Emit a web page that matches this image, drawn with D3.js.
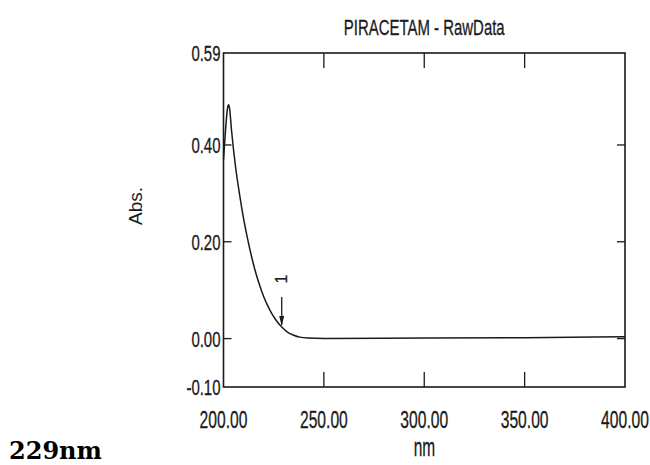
<!DOCTYPE html>
<html>
<head>
<meta charset="utf-8">
<script src="https://cdn.jsdelivr.net/npm/d3@7"></script>
<style>
  html, body { margin: 0; padding: 0; background: #fff; }
  svg { display: block; }
</style>
</head>
<body>
<svg id="chart" width="650" height="465"></svg>
<script>
// ---- data ----
const title = "PIRACETAM - RawData";
const xLabel = "nm";
const yLabel = "Abs.";
const note = "229nm";
const peakLabel = "1";
const peakWavelength = 229;
const wavelengths = [200, 201, 202, 202.5, 203, 204, 205, 206, 208, 210, 212, 214, 216, 218, 220, 222, 224, 226, 229, 232, 235, 238, 242, 250, 300, 350, 400];
const absorbance  = [0.37, 0.43, 0.476, 0.483, 0.476, 0.43, 0.39, 0.355, 0.298, 0.248, 0.206, 0.169, 0.137, 0.110, 0.087, 0.068, 0.052, 0.039, 0.024, 0.013, 0.007, 0.003, 0.001, 0.000, 0.001, 0.002, 0.004];
const xTicks = [200, 250, 300, 350, 400];
const yTicks = [-0.10, 0.00, 0.20, 0.40, 0.59];

// ---- layout ----
const svg = d3.select("#chart");
const pL = 223.5, pR = 625, pT = 53, pB = 387;
const x = d3.scaleLinear().domain([200, 400]).range([pL, pR]);
const y = d3.scaleLinear().domain([-0.10, 0.59]).range([pB, pT]);
const ink = "#1a1a1a";
const narrow = 0.68;
const font = "'Liberation Sans', Arial, sans-serif";

// frame
svg.append("rect")
  .attr("x", pL).attr("y", pT)
  .attr("width", pR - pL).attr("height", pB - pT)
  .attr("fill", "none").attr("stroke", ink).attr("stroke-width", 1.6);

// inner ticks
const tickG = svg.append("g").attr("stroke", ink).attr("stroke-width", 1.3);
xTicks.slice(1, -1).forEach(t => {
  tickG.append("line").attr("x1", x(t)).attr("x2", x(t)).attr("y1", pT).attr("y2", pT + 15);
  tickG.append("line").attr("x1", x(t)).attr("x2", x(t)).attr("y1", pB).attr("y2", pB - 15);
});
yTicks.slice(1, -1).forEach(t => {
  tickG.append("line").attr("x1", pL).attr("x2", pL + 8).attr("y1", y(t)).attr("y2", y(t));
  tickG.append("line").attr("x1", pR).attr("x2", pR - 8).attr("y1", y(t)).attr("y2", y(t));
});

// tick labels (condensed)
xTicks.forEach(t => {
  svg.append("g").attr("transform", `translate(${x(t)},428)`)
    .append("text").attr("transform", `scale(${narrow},1)`)
    .attr("text-anchor", "middle").attr("font-family", font).attr("font-size", 23)
    .attr("fill", ink).attr("stroke", ink).attr("stroke-width", 0.3).text(t.toFixed(2));
});
yTicks.forEach(t => {
  svg.append("g").attr("transform", `translate(${pL - 3},${y(t) + 8})`)
    .append("text").attr("transform", `scale(${narrow},1)`)
    .attr("text-anchor", "end").attr("font-family", font).attr("font-size", 22)
    .attr("fill", ink).attr("stroke", ink).attr("stroke-width", 0.3).text(t.toFixed(2));
});

// title
svg.append("g").attr("transform", `translate(${(pL + pR) / 2},35)`)
  .append("text").attr("transform", `scale(${narrow},1)`)
  .attr("text-anchor", "middle").attr("font-family", font).attr("font-size", 22)
  .attr("fill", ink).attr("stroke", ink).attr("stroke-width", 0.3).text(title);

// x label
svg.append("g").attr("transform", `translate(424.5,456)`)
  .append("text").attr("transform", `scale(0.62,1)`)
  .attr("text-anchor", "middle").attr("font-family", font).attr("font-size", 25)
  .attr("fill", ink).attr("stroke", ink).attr("stroke-width", 0.3).text(xLabel);

// y label
svg.append("text")
  .attr("transform", `translate(142,206) rotate(-90)`)
  .attr("text-anchor", "middle").attr("font-family", font).attr("font-size", 19)
  .attr("fill", ink).text(yLabel);

// spectrum
const line = d3.line()
  .x((d, i) => x(wavelengths[i]))
  .y(d => y(d))
  .curve(d3.curveMonotoneX);
svg.append("path")
  .datum(absorbance)
  .attr("d", line)
  .attr("fill", "none").attr("stroke", ink).attr("stroke-width", 1.5);

// peak marker arrow
const ax = x(peakWavelength);
const ayIdx = wavelengths.indexOf(peakWavelength);
const ay = y(absorbance[ayIdx]);
svg.append("line")
  .attr("x1", ax).attr("x2", ax).attr("y1", ay - 30).attr("y2", ay - 2)
  .attr("stroke", ink).attr("stroke-width", 1.3);
svg.append("path")
  .attr("d", `M${ax - 2.5},${ay - 11} L${ax + 2.5},${ay - 11} L${ax},${ay - 1} Z`)
  .attr("fill", ink);
svg.append("text")
  .attr("transform", `translate(${ax + 5},${ay - 48}) rotate(-90)`)
  .attr("text-anchor", "middle").attr("font-family", font).attr("font-size", 16)
  .attr("fill", ink).attr("stroke", ink).attr("stroke-width", 0.3).text(peakLabel);

// note
svg.append("text")
  .attr("x", 9).attr("y", 459)
  .attr("font-family", "'DejaVu Serif', serif").attr("font-weight", "bold")
  .attr("font-size", 24).attr("fill", "#000").text(note);
</script>
</body>
</html>
